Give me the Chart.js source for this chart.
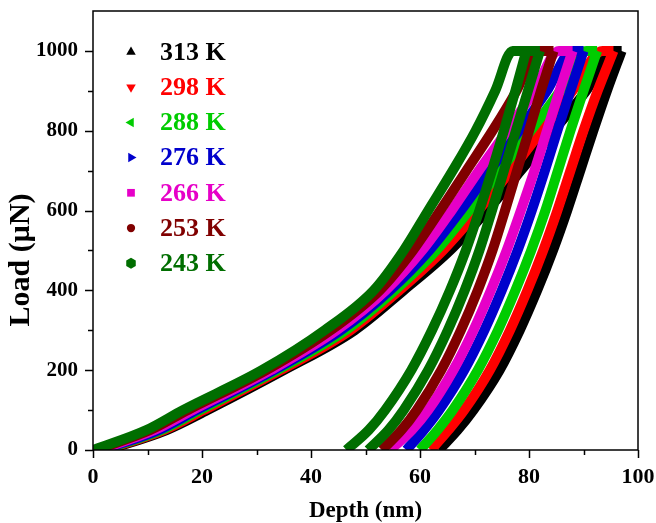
<!DOCTYPE html>
<html>
<head>
<meta charset="utf-8">
<script src="https://cdn.jsdelivr.net/npm/chart.js@4.4.0/dist/chart.umd.min.js"></script>
<style>
  html, body { margin: 0; padding: 0; background: #fff; }
</style>
</head>
<body>
<canvas id="chart" width="656" height="523"></canvas>
<script>
const loadSteps = [0, 50, 100, 200, 300, 400, 500, 600, 700, 800, 900, 1000];
const unloadSteps = [1000, 900, 800, 700, 600, 500, 400, 300, 200, 100, 50, 0];

// loading branch depths (nm), one per loadSteps value
const load313 = [2.5, 13.5, 21, 35, 48, 57, 65.5, 72.3, 78.5, 84.5, 90.5, 95.5];
const load298 = [2, 13, 20.3, 34.4, 47.2, 56.2, 64.2, 70.7, 76.7, 82.3, 88, 93.5];
const load288 = [1.7, 12.5, 19.6, 33.8, 46.4, 55.4, 63, 69, 74.7, 80.3, 85.7, 90.5];
const load276 = [1.4, 12, 19, 33.2, 45.5, 54.5, 61.7, 67.5, 72.8, 78.2, 83.3, 88];
const load266 = [1, 11.3, 18.3, 32.6, 44.7, 53.7, 60.4, 65.8, 70.8, 76, 81, 85.5];
const load253 = [0.5, 10.5, 17.4, 31.8, 43.6, 52.6, 58.7, 63.7, 68.5, 73.3, 77.7, 81.5];
const load243 = [0, 9.8, 16.5, 31, 42.5, 51.5, 57, 61.5, 66, 70.2, 73.8, 77];

// unloading branch depths (nm), one per unloadSteps value (first = end of hold)
const unload313 = [97, 94.3, 91.8, 89.4, 87, 84.4, 81.5, 78.3, 74.6, 69.8, 66.9, 63.5];
const unload298 = [95.5, 92.6, 90, 87.6, 85.2, 82.6, 79.7, 76.5, 72.8, 68.1, 65.2, 62];
const unload288 = [92.5, 90, 87.6, 85.3, 83, 80.4, 77.5, 74.3, 70.6, 66, 63.2, 60];
const unload276 = [90, 87.6, 85.2, 82.9, 80.5, 77.9, 75, 71.8, 68.1, 63.5, 60.7, 57.5];
const unload266 = [88, 85.6, 83.3, 81, 78.5, 75.9, 73, 69.8, 66.1, 61.5, 58.5, 54.5];
const unload253 = [84.5, 82.2, 80, 77.8, 75.6, 73.3, 70.6, 67.5, 63.9, 59.4, 56.6, 53];
const unload243 = [82, 79.8, 77.6, 75.4, 73.2, 70.9, 68.2, 65.1, 61.5, 57, 54.2, 50.5];
// second 243 K unloading run
const unload243b = [79.5, 77.5, 75.4, 73.2, 70.9, 68.4, 65.5, 62.2, 58.4, 53.6, 50.6, 46.5];

const temps = ['313 K', '298 K', '288 K', '276 K', '266 K', '253 K', '243 K'];
const colors = ['#000000', '#ff0000', '#00cc00', '#0000cc', '#e600c8', '#800000', '#006e00'];
const markers = ['triangle', 'triangleDown', 'triangleLeft', 'triangleRight', 'rect', 'circle', 'hexagon'];

const loading = [load313, load298, load288, load276, load266, load253, load243];
const unloading = [unload313, unload298, unload288, unload276, unload266, unload253, unload243];

// loading branch plus the hold at peak load (ends where unloading starts)
function loadingCurve(depths, holdEnd) {
  const pts = depths.map((d, i) => ({ x: d, y: loadSteps[i] }));
  pts.push({ x: holdEnd, y: loadSteps[loadSteps.length - 1] });
  return pts;
}
function unloadingCurve(depths) {
  return depths.map((d, i) => ({ x: d, y: unloadSteps[i] }));
}

const datasets = [];
temps.forEach((t, i) => {
  const style = { label: t, borderColor: colors[i], borderWidth: 10, order: temps.length - i + 1 };
  datasets.push({ ...style, data: loadingCurve(loading[i], unloading[i][0]) });
  datasets.push({ ...style, data: unloadingCurve(unloading[i]) });
});
datasets.push({ label: '243 K', borderColor: colors[6], borderWidth: 10, order: 1, data: unloadingCurve(unload243b) });

function drawMarker(ctx, shape, x, y, r) {
  ctx.beginPath();
  if (shape === 'circle') {
    ctx.arc(x, y, r * 0.75, 0, Math.PI * 2);
  } else if (shape === 'rect') {
    ctx.rect(x - r * 0.7, y - r * 0.7, r * 1.4, r * 1.4);
  } else {
    const turn = { triangle: 0, triangleRight: 90, triangleDown: 180, triangleLeft: 270, hexagon: 0 }[shape];
    const n = shape === 'hexagon' ? 6 : 3;
    for (let k = 0; k < n; k++) {
      const a = (turn + k * 360 / n - 90) * Math.PI / 180;
      const px = x + r * Math.cos(a), py = y + r * Math.sin(a);
      if (k === 0) ctx.moveTo(px, py); else ctx.lineTo(px, py);
    }
    ctx.closePath();
  }
  ctx.fill();
}

const serif = '"Liberation Serif", "Times New Roman", serif';

// frame, major/minor tick marks, y title and the inside legend
const decorPlugin = {
  id: 'decor',
  afterDraw(chart) {
    const { ctx, chartArea: a, scales: { x, y } } = chart;
    ctx.save();
    ctx.strokeStyle = '#000';
    ctx.lineWidth = 1.5;
    ctx.strokeRect(a.left, a.top, a.right - a.left, a.bottom - a.top);
    ctx.beginPath();
    for (let v = 0; v <= 100; v += 10) {
      const px = Math.round(x.getPixelForValue(v)) + 0.5;
      ctx.moveTo(px, a.bottom);
      ctx.lineTo(px, a.bottom + (v % 20 ? 5 : 8));
    }
    for (let v = 0; v <= 1000; v += 100) {
      const py = Math.round(y.getPixelForValue(v)) + 0.5;
      ctx.moveTo(a.left, py);
      ctx.lineTo(a.left - (v % 200 ? 5 : 8), py);
    }
    ctx.stroke();

    // y-axis title, sits a little below the middle of the axis
    ctx.save();
    ctx.translate(21, 260);
    ctx.rotate(-Math.PI / 2);
    ctx.fillStyle = '#000';
    ctx.font = 'bold 30px ' + serif;
    ctx.textAlign = 'center';
    ctx.textBaseline = 'middle';
    ctx.fillText('Load (\u00b5N)', 0, 0);
    ctx.restore();

    ctx.font = 'bold 26px ' + serif;
    ctx.textBaseline = 'middle';
    temps.forEach((t, i) => {
      const ly = 52 + i * 35.2;
      ctx.fillStyle = colors[i];
      drawMarker(ctx, markers[i], 131, ly, 5.5);
      ctx.fillText(t, 160, ly + 1);
    });
    ctx.restore();
  }
};

new Chart(document.getElementById('chart'), {
  type: 'scatter',
  data: { datasets },
  options: {
    responsive: false,
    animation: false,
    showLine: true,
    layout: { autoPadding: false, padding: { top: 11, right: 18, left: 0, bottom: 0 } },
    elements: {
      point: { radius: 0 },
      line: { cubicInterpolationMode: 'monotone', borderCapStyle: 'butt', borderJoinStyle: 'round' }
    },
    plugins: { legend: { display: false }, tooltip: { enabled: false } },
    scales: {
      x: {
        type: 'linear', min: 0, max: 100,
        afterFit: s => { s.height = 73; s.paddingLeft = 0; s.paddingRight = 0; },
        border: { display: false },
        grid: { display: false },
        ticks: { stepSize: 20, padding: 6, color: '#000', callback: v => String(v), font: { family: serif, size: 22, weight: 'bold' } },
        title: { display: true, text: 'Depth (nm)', color: '#000', padding: { top: 0, bottom: 0 }, font: { family: serif, size: 23, weight: 'bold', lineHeight: 1 } }
      },
      y: {
        type: 'linear', min: 0, max: 1100,
        afterFit: s => { s.width = 93; s.paddingTop = 0; s.paddingBottom = 0; },
        border: { display: false },
        grid: { display: false },
        ticks: { stepSize: 200, includeBounds: false, padding: 7, color: '#000', callback: v => String(v), font: { family: serif, size: 21, weight: 'bold' } },
        title: { display: false }
      }
    }
  },
  plugins: [decorPlugin]
});
</script>
</body>
</html>
